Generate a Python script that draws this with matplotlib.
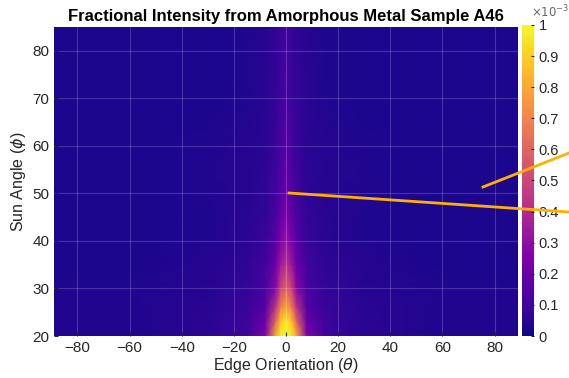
import numpy as np
import matplotlib.pyplot as plt
from matplotlib.lines import Line2D

plt.rcParams['font.family'] = ['Liberation Sans', 'DejaVu Sans']

# grid nodes
theta = np.array([-90, -60, -30, -15, -8, -4, -2, 0, 2, 4, 8, 15, 30, 60, 90])
phi = np.array([20, 23, 26, 30, 35, 40, 45, 50, 60, 70, 85])

# fractional intensity, units of 1e-3 (rows = phi, cols = theta)
intensity = np.array([
    [.03, .03, .05, .09, .26, .80, .97, 1.0, .97, .80, .26, .09, .05, .03, .03],
    [.03, .03, .05, .09, .20, .62, .88, .96, .88, .62, .20, .09, .05, .03, .03],
    [.03, .03, .05, .08, .15, .44, .70, .80, .70, .44, .15, .08, .05, .03, .03],
    [.03, .03, .04, .07, .12, .28, .50, .60, .50, .28, .12, .07, .04, .03, .03],
    [.02, .02, .04, .06, .10, .20, .34, .43, .34, .20, .10, .06, .04, .02, .02],
    [.02, .02, .03, .05, .08, .15, .25, .32, .25, .15, .08, .05, .03, .02, .02],
    [.02, .02, .03, .05, .07, .12, .19, .25, .19, .12, .07, .05, .03, .02, .02],
    [.02, .02, .03, .04, .06, .10, .15, .20, .15, .10, .06, .04, .03, .02, .02],
    [.02, .02, .03, .04, .05, .08, .12, .15, .12, .08, .05, .04, .03, .02, .02],
    [.02, .02, .02, .03, .05, .07, .09, .12, .09, .07, .05, .03, .02, .02, .02],
    [.02, .02, .02, .03, .04, .06, .08, .10, .08, .06, .04, .03, .02, .02, .02],
]) * 1e-3

xticks = [-80, -60, -40, -20, 0, 20, 40, 60, 80]
yticks = [20, 30, 40, 50, 60, 70, 80]
cticks = np.arange(0, 11) / 10

# annotation lines drawn over the figure (figure pixel coords)
pointer_lines = [((289, 193), (569, 212)), ((483, 187), (569, 153))]

W, H = 569, 378
fig = plt.figure(figsize=(W / 100, H / 100), dpi=100)
ax = fig.add_axes([54 / W, 1 - 336 / H, 464 / W, 309 / H])
cax = fig.add_axes([522 / W, 1 - 336 / H, 12 / W, 311 / H])

T, P = np.meshgrid(theta, phi)
mesh = ax.pcolormesh(T, P, intensity, shading='gouraud', cmap='plasma', vmin=0, vmax=1e-3)
ax.set_xlim(-89, 89)
ax.set_ylim(20, 85)
ax.set_xticks(xticks)
ax.set_yticks(yticks)
ax.grid(True, color='white', alpha=0.18, lw=0.8)
ax.set_axisbelow(False)
ax.tick_params(direction='in', length=3, labelsize=11, colors='#262626', labelcolor='#262626')
for s in ax.spines.values():
    s.set_visible(False)
ax.set_xlabel(r'Edge Orientation ($\theta$)', fontsize=11.5, color='#262626', labelpad=1)
ax.set_ylabel(r'Sun Angle ($\phi$)', fontsize=11.5, color='#262626', labelpad=3)
ax.set_title('Fractional Intensity from Amorphous Metal Sample A46', fontsize=12,
             fontweight='bold', pad=4)

cb = fig.colorbar(mesh, cax=cax)
cb.set_ticks(cticks * 1e-3)
cb.set_ticklabels(['0' if v == 0 else ('1' if v == 1 else f'{v:.1f}') for v in cticks])
cb.ax.tick_params(direction='in', length=2, labelsize=10.5, colors='#262626', labelcolor='#262626')
cb.outline.set_visible(False)
fig.text(531 / W, 1 - 12 / H, r'$\times10^{-3}$', fontsize=8.5, color='#666666', va='center')

for (x0, y0), (x1, y1) in pointer_lines:
    fig.add_artist(Line2D([x0 / W, x1 / W], [1 - y0 / H, 1 - y1 / H],
                          transform=fig.transFigure, color='#ffb000', lw=2))

fig.savefig('out.png', dpi=100)
